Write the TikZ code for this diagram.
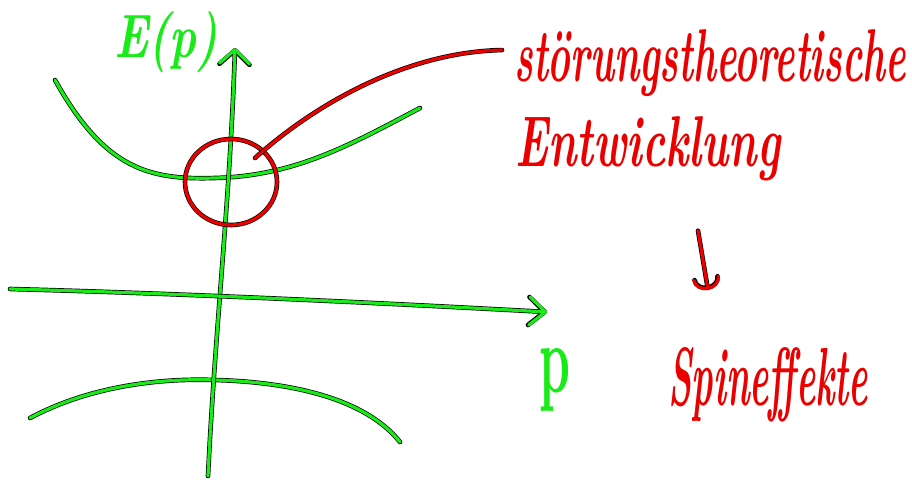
\documentclass[tikz,border=0pt]{standalone}
\usepackage{graphicx}
\usetikzlibrary{arrows.meta,shapes.geometric,calc}
\definecolor{pen green}{RGB}{25,235,25}
\definecolor{pen red}{RGB}{235,0,0}
\tikzset{
  stroke/.style={line width=3.2pt, line cap=round, line join=round,
     preaction={draw=black, line width=4.6pt, line cap=round, line join=round}},
  gline/.style={stroke, draw=pen green},
  rline/.style={stroke, draw=pen red},
  gtext/.style={text=pen green, inner sep=0pt, font=\bfseries\itshape},
  rtext/.style={text=pen red, inner sep=0pt, font=\bfseries\itshape},
}
\begin{document}
\begin{tikzpicture}[x=1pt,y=-1pt]
\fill[white] (0,0) rectangle (912,481);
\useasboundingbox (0,0) rectangle (912,481);
% texts
\node[gtext, anchor=base west] (E) at (114,58) {\resizebox{104pt}{46pt}{E(p)}};
\node[gtext, anchor=base west] (p) at (539,392) {\resizebox{31pt}{44pt}{\upshape p}};
\node[rtext, anchor=base west] (s1) at (514,82) {\resizebox{392pt}{52pt}{störungstheoretische}};
\node[rtext, anchor=base west] (s2) at (515,166) {\resizebox{265pt}{50pt}{Entwicklung}};
\node[rtext, anchor=base west] (s3) at (668,405) {\resizebox{200pt}{58pt}{Spineffekte}};
% curves
\draw[gline] (55,80) .. controls (105,170) and (150,180) .. (215,178)
             .. controls (295,176) and (350,145) .. (420,108);
\draw[gline] (30,418) .. controls (90,386) and (160,378) .. (215,380)
             .. controls (290,382) and (365,398) .. (400,442);
% axes
\coordinate (vb) at (208,476);
\coordinate (vt) at (235,48);
\draw[gline, -{Straight Barb[length=14pt,width=30pt,round]}]
   (vb) .. controls (215,330) and (230,200) .. (vt);
\coordinate (hl) at (10,289);
\coordinate (hr) at (547,312);
\draw[gline, -{Straight Barb[length=16pt,width=28pt,round]}]
   (hl) .. controls (200,294) and (400,304) .. (hr);
% circle and connector
\node[rline, ellipse, minimum width=92pt, minimum height=86pt] (circ) at (231,182) {};
\coordinate (cs) at (255,158);
\coordinate (ce) at ($(s1.north west)!0.3!(s1.south west)+(-12,0)$);
\draw[rline] (cs) .. controls (320,100) and (410,52) .. (ce);
% arrow
\coordinate (ax) at (698,234);
\draw[rline, -{Arc Barb[length=12pt,width=28pt,round]}]
   (s2.south -| ax) ++(0,50) -- (708,290);
\end{tikzpicture}
\end{document}
